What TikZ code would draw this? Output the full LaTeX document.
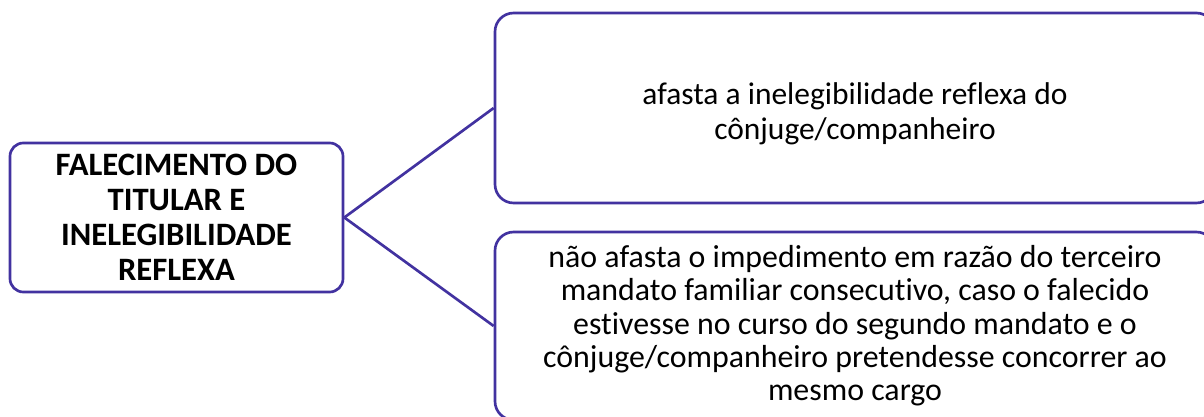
\documentclass[tikz,border=0pt]{standalone}
\usepackage{fontspec}
\setmainfont{Carlito}[Ligatures={NoCommon}]
\definecolor{mypurple}{RGB}{66,50,160}

\begin{document}
\begin{tikzpicture}[x=0.75pt,y=-0.75pt]
\tikzset{BoxStyle/.style ={draw=mypurple, line width=2pt, rounded corners=10pt, align=center, inner sep=0pt}}
\tikzset{EdgeStyle/.style ={draw=mypurple, line width=2pt}}
\clip (0,0) rectangle (1204,417);
\useasboundingbox (0,0) rectangle (1204,417);
% main topic
\node[BoxStyle, minimum width=249.75pt, minimum height=111.75pt, font=\bfseries\fontsize{24.5}{26.25}\selectfont] (titular) at (176.5,217.5)
  {FALECIMENTO DO\\TITULAR E\\INELEGIBILIDADE\\REFLEXA};
% branches
\node[BoxStyle, rounded corners=14pt, minimum width=540pt, minimum height=142.5pt, font=\fontsize{23.6}{26}\selectfont] (afasta) at (855,108)
  {\rule{0pt}{25pt}afasta a inelegibilidade reflexa do\\c\^onjuge/companheiro};
\node[BoxStyle, rounded corners=14pt, minimum width=540pt, minimum height=141pt, font=\fontsize{23.9}{25}\selectfont] (naoafasta) at (855,326)
  {n\~ao afasta o impedimento em raz\~ao do terceiro\\mandato familiar consecutivo, caso o falecido\\estivesse no curso do segundo mandato e o\\c\^onjuge/companheiro pretendesse concorrer ao\\mesmo cargo};
\draw[EdgeStyle] (titular.east) -- (afasta.west);
\draw[EdgeStyle] (titular.east) -- (naoafasta.west);
\end{tikzpicture}
\end{document}
